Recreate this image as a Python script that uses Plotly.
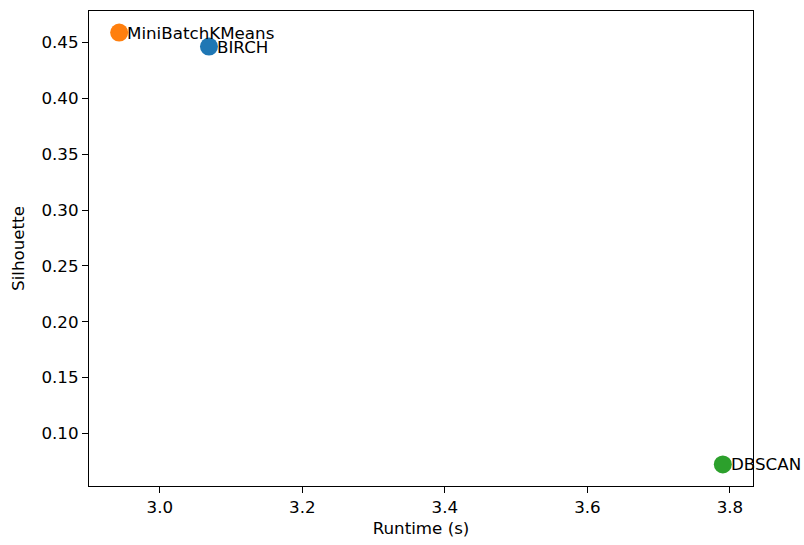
import plotly.graph_objects as go

methods = ["BIRCH", "MiniBatchKMeans", "DBSCAN"]
runtime = [3.069, 2.943, 3.790]
silhouette = [0.4465, 0.4590, 0.0722]
colors = ["#1f77b4", "#ff7f0e", "#2ca02c"]

x_ticks = [3.0, 3.2, 3.4, 3.6, 3.8]
y_ticks = [0.10, 0.15, 0.20, 0.25, 0.30, 0.35, 0.40, 0.45]

FS = 16.7
font = dict(family="DejaVu Sans", size=FS, color="black")

fig = go.Figure()
for m, x, y, c in zip(methods, runtime, silhouette, colors):
    fig.add_trace(go.Scatter(x=[x], y=[y], mode="markers", name=m,
                             marker=dict(size=18, color=c), cliponaxis=False))
    fig.add_annotation(x=x, y=y, text=m, showarrow=False, xanchor="left",
                       yanchor="middle", xshift=6, font=font)

xr = max(runtime) - min(runtime)
yr = max(silhouette) - min(silhouette)
axis_common = dict(showline=True, linecolor="black", linewidth=1.2, mirror=True,
                   ticks="outside", ticklen=6, tickcolor="black", showgrid=False,
                   zeroline=False, tickfont=font)
fig.update_layout(
    width=804, height=545,
    margin=dict(l=89, r=51, t=10, b=58),
    plot_bgcolor="white", paper_bgcolor="white", showlegend=False,
    xaxis=dict(range=[min(runtime) - 0.05 * xr, max(runtime) + 0.05 * xr],
               tickvals=x_ticks, ticktext=[f"{v:.1f}" for v in x_ticks],
               title=dict(text="Runtime (s)", font=font, standoff=6),
               **axis_common),
    yaxis=dict(range=[min(silhouette) - 0.05 * yr, max(silhouette) + 0.05 * yr],
               tickvals=y_ticks, ticktext=[f"{v:.2f}" for v in y_ticks],
               title=dict(text="Silhouette", font=font, standoff=12),
               **axis_common),
)
fig.write_html("out.html")
